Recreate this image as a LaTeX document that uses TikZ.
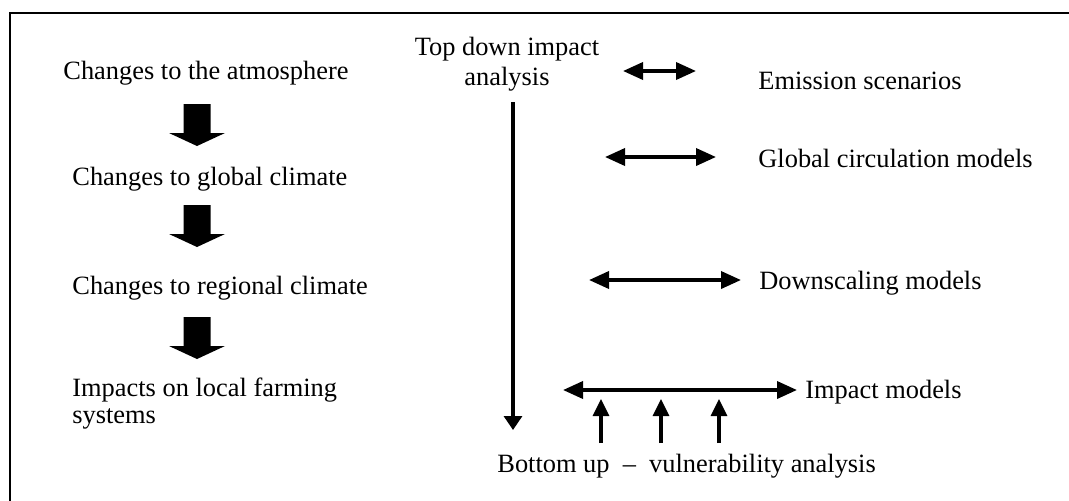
\documentclass[tikz,border=0pt]{standalone}
\usepackage{fontspec}
\setmainfont{Liberation Serif}
\usetikzlibrary{arrows.meta}
\begin{document}
\begin{tikzpicture}[x=0.5pt,y=-0.5pt,
  lbl/.style={inner sep=0pt, anchor=base west, font=\fontsize{13.2pt}{13.2pt}\selectfont},
  dbl/.style={line width=1.8pt, {Triangle[length=10pt,width=8.5pt]}-{Triangle[length=10pt,width=8.5pt]}},
  uparr/.style={line width=1.6pt, -{Triangle[length=8.5pt,width=8pt]}},
  downarr/.style={line width=1.6pt, -{Triangle[length=7pt,width=9pt]}},
  blk/.pic={\fill[black] (-13.5,0) -- (13.5,0) -- (13.5,29) -- (28,29) -- (0,42) -- (-28,29) -- (-13.5,29) -- cycle;}
]
\useasboundingbox (0,0) rectangle (1069,500);
\draw[line width=1pt] (10,502) -- (10,13) -- (1071,13);

% left column
\node[lbl] (atm) at (63,79) {Changes to the atmosphere};
\node[lbl] (glob) at (72,185) {Changes to global climate};
\node[lbl] (reg) at (72,294) {Changes to regional climate};
\node[lbl, align=left] (imp) at (72,423) {Impacts on local farming\\systems};
\pic at (197,104) {blk};
\pic at (197,205) {blk};
\pic at (197,317) {blk};

% top down
\node[lbl, anchor=base, align=center, font=\fontsize{13.2pt}{15pt}\selectfont] (td) at (507,85) {Top down impact\\analysis};
\coordinate (vt) at (513,102);
\coordinate (vb) at (513,430);
\draw[downarr] (vt) -- (vb);

% model levels
\node[lbl] (emis) at (758,89) {Emission scenarios};
\node[lbl] (gcm) at (758,167) {Global circulation models};
\node[lbl] (down) at (759,289) {Downscaling models};
\node[lbl] (impm) at (805,398) {Impact models};

\coordinate (e1) at (623,71);  \coordinate (e2) at (696,71);
\coordinate (g1) at (605,157); \coordinate (g2) at (716,157);
\coordinate (d1) at (589,280); \coordinate (d2) at (741,280);
\coordinate (i1) at (563,390); \coordinate (i2) at (797,390);
\draw[dbl] (e1) -- (e2);
\draw[dbl] (g1) -- (g2);
\draw[dbl] (d1) -- (d2);
\draw[dbl] (i1) -- (i2);

% bottom up
\node[lbl] (bu) at (497,472) {Bottom up\ \ --\ \ vulnerability analysis};
\foreach \x/\n in {601/a,661/b,719/c}{
  \coordinate (ub\n) at (\x,443);
  \coordinate (ut\n) at (\x,399);
  \draw[uparr] (ub\n) -- (ut\n);
}
\end{tikzpicture}
\end{document}
